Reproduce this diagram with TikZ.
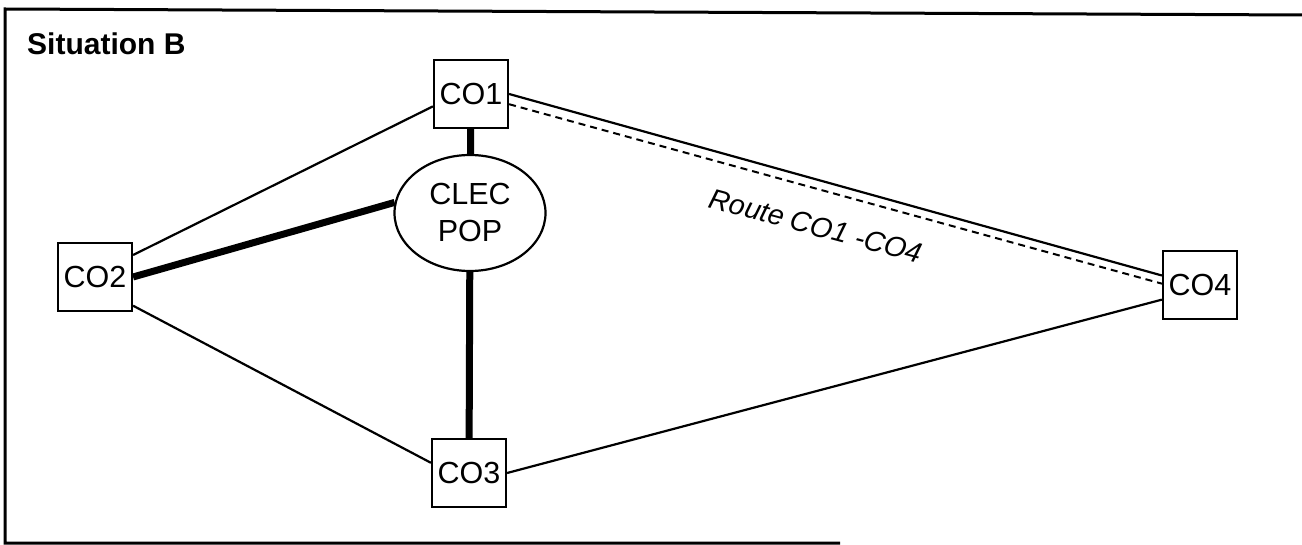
\documentclass[tikz,border=0pt]{standalone}
\usepackage{fontspec}
\setmainfont{Liberation Sans}
\usetikzlibrary{shapes.geometric}
\begin{document}
\begin{tikzpicture}[x=1pt,y=-1pt,
  cobox/.style={draw, line width=2.2pt, rectangle, minimum width=74pt, minimum height=68pt, inner sep=0pt, font=\fontsize{30.5}{36}\selectfont},
  popnode/.style={draw, line width=2.2pt, ellipse, minimum width=151pt, minimum height=116pt, inner sep=0pt, align=center, font=\fontsize{30.5}{37}\selectfont},
  link/.style={line width=2.2pt},
  heavylink/.style={line width=7pt},
  route/.style={line width=2pt, dash pattern=on 7pt off 5pt},
  frameline/.style={line width=3pt}]
\useasboundingbox (0,0) rectangle (1302,545);
\coordinate (f1) at (5,9);
\coordinate (f2) at (1302,15);
\coordinate (f3) at (5,543);
\coordinate (f4) at (840,543);
\draw[frameline] (f2) -- (f1) -- (f3) -- (f4);

\node[font=\bfseries\fontsize{30}{36}\selectfont, anchor=base west, inner sep=0pt] (title) at (27,55) {Situation B};

\node[cobox] (CO1) at (471,94) {CO1};
\node[popnode] (POP) at (470,213) {CLEC\\POP};
\node[cobox] (CO2) at (95,277) {CO2};
\node[cobox] (CO3) at (469,473) {CO3};
\node[cobox] (CO4) at (1200,285) {CO4};

\draw[link] (CO2.30) -- (CO1.198);
\draw[heavylink] (CO2.east) -- (POP.172);
\draw[heavylink] (CO1) -- (POP);
\draw[heavylink] (POP) -- (CO3);
\draw[link] (CO2.-37) -- (CO3.165);
\draw[link] (CO3.east) -- (CO4.201);
\draw[link] (CO1.east) -- (CO4.166);
\draw[route] (CO1.-15) -- (CO4.178);

\node[font=\itshape\fontsize{28.5}{34}\selectfont, rotate=-15, inner sep=0pt] (lbl) at (816,226) {Route CO1 -CO4};
\end{tikzpicture}
\end{document}
